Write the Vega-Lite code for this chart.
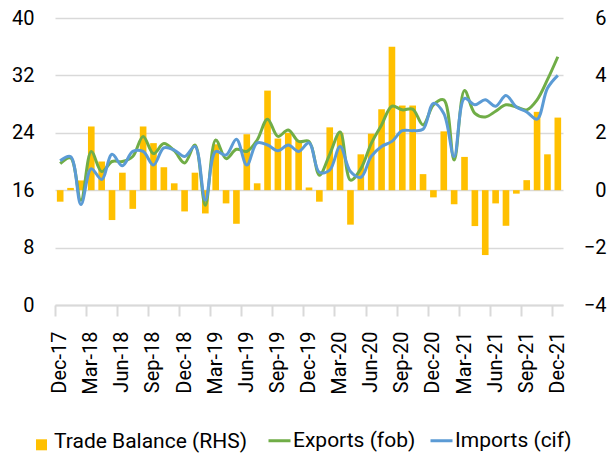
{
  "$schema": "https://vega.github.io/schema/vega-lite/v6.json",
  "width": 508,
  "height": 287,
  "autosize": {"type": "none"},
  "padding": {"left": 55, "top": 18, "right": 44, "bottom": 149},
  "config": {
    "view": {"stroke": null},
    "font": "Roboto",
    "axis": {"labelFont": "Roboto", "labelColor": "#000000", "labelFontSize": 20, "title": null},
    "legend": {"labelFont": "Roboto", "labelColor": "#000000", "labelFontSize": 21, "labelLimit": 400}
  },
  "datasets": {
    "bal": [
      {"month": "Dec-17", "item": "Trade Balance (RHS)", "balance": -0.40},
      {"month": "Jan-18", "item": "Trade Balance (RHS)", "balance": 0.08},
      {"month": "Feb-18", "item": "Trade Balance (RHS)", "balance": 0.34},
      {"month": "Mar-18", "item": "Trade Balance (RHS)", "balance": 2.22},
      {"month": "Apr-18", "item": "Trade Balance (RHS)", "balance": 1.00},
      {"month": "May-18", "item": "Trade Balance (RHS)", "balance": -1.04},
      {"month": "Jun-18", "item": "Trade Balance (RHS)", "balance": 0.61},
      {"month": "Jul-18", "item": "Trade Balance (RHS)", "balance": -0.65},
      {"month": "Aug-18", "item": "Trade Balance (RHS)", "balance": 2.22},
      {"month": "Sep-18", "item": "Trade Balance (RHS)", "balance": 1.64},
      {"month": "Oct-18", "item": "Trade Balance (RHS)", "balance": 0.80},
      {"month": "Nov-18", "item": "Trade Balance (RHS)", "balance": 0.24},
      {"month": "Dec-18", "item": "Trade Balance (RHS)", "balance": -0.74},
      {"month": "Jan-19", "item": "Trade Balance (RHS)", "balance": 0.61},
      {"month": "Feb-19", "item": "Trade Balance (RHS)", "balance": -0.81},
      {"month": "Mar-19", "item": "Trade Balance (RHS)", "balance": 1.60},
      {"month": "Apr-19", "item": "Trade Balance (RHS)", "balance": -0.46},
      {"month": "May-19", "item": "Trade Balance (RHS)", "balance": -1.17},
      {"month": "Jun-19", "item": "Trade Balance (RHS)", "balance": 1.95},
      {"month": "Jul-19", "item": "Trade Balance (RHS)", "balance": 0.24},
      {"month": "Aug-19", "item": "Trade Balance (RHS)", "balance": 3.47},
      {"month": "Sep-19", "item": "Trade Balance (RHS)", "balance": 1.80},
      {"month": "Oct-19", "item": "Trade Balance (RHS)", "balance": 2.00},
      {"month": "Nov-19", "item": "Trade Balance (RHS)", "balance": 1.74},
      {"month": "Dec-19", "item": "Trade Balance (RHS)", "balance": 0.09},
      {"month": "Jan-20", "item": "Trade Balance (RHS)", "balance": -0.40},
      {"month": "Feb-20", "item": "Trade Balance (RHS)", "balance": 2.19},
      {"month": "Mar-20", "item": "Trade Balance (RHS)", "balance": 2.00},
      {"month": "Apr-20", "item": "Trade Balance (RHS)", "balance": -1.20},
      {"month": "May-20", "item": "Trade Balance (RHS)", "balance": 1.25},
      {"month": "Jun-20", "item": "Trade Balance (RHS)", "balance": 1.97},
      {"month": "Jul-20", "item": "Trade Balance (RHS)", "balance": 2.82},
      {"month": "Aug-20", "item": "Trade Balance (RHS)", "balance": 5.00},
      {"month": "Sep-20", "item": "Trade Balance (RHS)", "balance": 2.95},
      {"month": "Oct-20", "item": "Trade Balance (RHS)", "balance": 2.95},
      {"month": "Nov-20", "item": "Trade Balance (RHS)", "balance": 0.56},
      {"month": "Dec-20", "item": "Trade Balance (RHS)", "balance": -0.25},
      {"month": "Jan-21", "item": "Trade Balance (RHS)", "balance": 2.05},
      {"month": "Feb-21", "item": "Trade Balance (RHS)", "balance": -0.49},
      {"month": "Mar-21", "item": "Trade Balance (RHS)", "balance": 1.16},
      {"month": "Apr-21", "item": "Trade Balance (RHS)", "balance": -1.25},
      {"month": "May-21", "item": "Trade Balance (RHS)", "balance": -2.26},
      {"month": "Jun-21", "item": "Trade Balance (RHS)", "balance": -0.46},
      {"month": "Jul-21", "item": "Trade Balance (RHS)", "balance": -1.24},
      {"month": "Aug-21", "item": "Trade Balance (RHS)", "balance": -0.12},
      {"month": "Sep-21", "item": "Trade Balance (RHS)", "balance": 0.35},
      {"month": "Oct-21", "item": "Trade Balance (RHS)", "balance": 2.73},
      {"month": "Nov-21", "item": "Trade Balance (RHS)", "balance": 1.25},
      {"month": "Dec-21", "item": "Trade Balance (RHS)", "balance": 2.53}
    ],
    "lines": [
      {"month": "Dec-17", "series": "Exports (fob)", "value": 19.7},
      {"month": "Jan-18", "series": "Exports (fob)", "value": 20.5},
      {"month": "Feb-18", "series": "Exports (fob)", "value": 14.6},
      {"month": "Mar-18", "series": "Exports (fob)", "value": 21.4},
      {"month": "Apr-18", "series": "Exports (fob)", "value": 18.6},
      {"month": "May-18", "series": "Exports (fob)", "value": 20.0},
      {"month": "Jun-18", "series": "Exports (fob)", "value": 20.0},
      {"month": "Jul-18", "series": "Exports (fob)", "value": 20.7},
      {"month": "Aug-18", "series": "Exports (fob)", "value": 23.5},
      {"month": "Sep-18", "series": "Exports (fob)", "value": 21.1},
      {"month": "Oct-18", "series": "Exports (fob)", "value": 22.5},
      {"month": "Nov-18", "series": "Exports (fob)", "value": 21.5},
      {"month": "Dec-18", "series": "Exports (fob)", "value": 19.8},
      {"month": "Jan-19", "series": "Exports (fob)", "value": 22.3},
      {"month": "Feb-19", "series": "Exports (fob)", "value": 13.9},
      {"month": "Mar-19", "series": "Exports (fob)", "value": 23.0},
      {"month": "Apr-19", "series": "Exports (fob)", "value": 20.4},
      {"month": "May-19", "series": "Exports (fob)", "value": 21.7},
      {"month": "Jun-19", "series": "Exports (fob)", "value": 21.4},
      {"month": "Jul-19", "series": "Exports (fob)", "value": 23.0},
      {"month": "Aug-19", "series": "Exports (fob)", "value": 25.9},
      {"month": "Sep-19", "series": "Exports (fob)", "value": 23.5},
      {"month": "Oct-19", "series": "Exports (fob)", "value": 24.4},
      {"month": "Nov-19", "series": "Exports (fob)", "value": 22.8},
      {"month": "Dec-19", "series": "Exports (fob)", "value": 22.8},
      {"month": "Jan-20", "series": "Exports (fob)", "value": 18.1},
      {"month": "Feb-20", "series": "Exports (fob)", "value": 21.0},
      {"month": "Mar-20", "series": "Exports (fob)", "value": 24.1},
      {"month": "Apr-20", "series": "Exports (fob)", "value": 17.4},
      {"month": "May-20", "series": "Exports (fob)", "value": 19.0},
      {"month": "Jun-20", "series": "Exports (fob)", "value": 22.5},
      {"month": "Jul-20", "series": "Exports (fob)", "value": 25.1},
      {"month": "Aug-20", "series": "Exports (fob)", "value": 27.7},
      {"month": "Sep-20", "series": "Exports (fob)", "value": 27.2},
      {"month": "Oct-20", "series": "Exports (fob)", "value": 27.3},
      {"month": "Nov-20", "series": "Exports (fob)", "value": 25.1},
      {"month": "Dec-20", "series": "Exports (fob)", "value": 27.9},
      {"month": "Jan-21", "series": "Exports (fob)", "value": 28.6},
      {"month": "Feb-21", "series": "Exports (fob)", "value": 20.2},
      {"month": "Mar-21", "series": "Exports (fob)", "value": 29.9},
      {"month": "Apr-21", "series": "Exports (fob)", "value": 26.7},
      {"month": "May-21", "series": "Exports (fob)", "value": 26.2},
      {"month": "Jun-21", "series": "Exports (fob)", "value": 27.0},
      {"month": "Jul-21", "series": "Exports (fob)", "value": 27.9},
      {"month": "Aug-21", "series": "Exports (fob)", "value": 27.6},
      {"month": "Sep-21", "series": "Exports (fob)", "value": 27.2},
      {"month": "Oct-21", "series": "Exports (fob)", "value": 28.6},
      {"month": "Nov-21", "series": "Exports (fob)", "value": 31.4},
      {"month": "Dec-21", "series": "Exports (fob)", "value": 34.6},
      {"month": "Dec-17", "series": "Imports (cif)", "value": 20.1},
      {"month": "Jan-18", "series": "Imports (cif)", "value": 20.7},
      {"month": "Feb-18", "series": "Imports (cif)", "value": 14.0},
      {"month": "Mar-18", "series": "Imports (cif)", "value": 19.0},
      {"month": "Apr-18", "series": "Imports (cif)", "value": 17.5},
      {"month": "May-18", "series": "Imports (cif)", "value": 21.0},
      {"month": "Jun-18", "series": "Imports (cif)", "value": 19.4},
      {"month": "Jul-18", "series": "Imports (cif)", "value": 21.4},
      {"month": "Aug-18", "series": "Imports (cif)", "value": 21.4},
      {"month": "Sep-18", "series": "Imports (cif)", "value": 19.5},
      {"month": "Oct-18", "series": "Imports (cif)", "value": 21.9},
      {"month": "Nov-18", "series": "Imports (cif)", "value": 21.6},
      {"month": "Dec-18", "series": "Imports (cif)", "value": 20.7},
      {"month": "Jan-19", "series": "Imports (cif)", "value": 22.1},
      {"month": "Feb-19", "series": "Imports (cif)", "value": 14.6},
      {"month": "Mar-19", "series": "Imports (cif)", "value": 21.4},
      {"month": "Apr-19", "series": "Imports (cif)", "value": 20.9},
      {"month": "May-19", "series": "Imports (cif)", "value": 23.1},
      {"month": "Jun-19", "series": "Imports (cif)", "value": 19.5},
      {"month": "Jul-19", "series": "Imports (cif)", "value": 22.6},
      {"month": "Aug-19", "series": "Imports (cif)", "value": 22.3},
      {"month": "Sep-19", "series": "Imports (cif)", "value": 21.5},
      {"month": "Oct-19", "series": "Imports (cif)", "value": 22.3},
      {"month": "Nov-19", "series": "Imports (cif)", "value": 21.4},
      {"month": "Dec-19", "series": "Imports (cif)", "value": 22.6},
      {"month": "Jan-20", "series": "Imports (cif)", "value": 18.5},
      {"month": "Feb-20", "series": "Imports (cif)", "value": 18.8},
      {"month": "Mar-20", "series": "Imports (cif)", "value": 22.1},
      {"month": "Apr-20", "series": "Imports (cif)", "value": 18.6},
      {"month": "May-20", "series": "Imports (cif)", "value": 17.8},
      {"month": "Jun-20", "series": "Imports (cif)", "value": 20.7},
      {"month": "Jul-20", "series": "Imports (cif)", "value": 22.1},
      {"month": "Aug-20", "series": "Imports (cif)", "value": 22.8},
      {"month": "Sep-20", "series": "Imports (cif)", "value": 24.3},
      {"month": "Oct-20", "series": "Imports (cif)", "value": 24.3},
      {"month": "Nov-20", "series": "Imports (cif)", "value": 24.5},
      {"month": "Dec-20", "series": "Imports (cif)", "value": 28.1},
      {"month": "Jan-21", "series": "Imports (cif)", "value": 26.7},
      {"month": "Feb-21", "series": "Imports (cif)", "value": 20.7},
      {"month": "Mar-21", "series": "Imports (cif)", "value": 28.8},
      {"month": "Apr-21", "series": "Imports (cif)", "value": 27.9},
      {"month": "May-21", "series": "Imports (cif)", "value": 28.6},
      {"month": "Jun-21", "series": "Imports (cif)", "value": 27.7},
      {"month": "Jul-21", "series": "Imports (cif)", "value": 29.2},
      {"month": "Aug-21", "series": "Imports (cif)", "value": 27.6},
      {"month": "Sep-21", "series": "Imports (cif)", "value": 26.9},
      {"month": "Oct-21", "series": "Imports (cif)", "value": 25.9},
      {"month": "Nov-21", "series": "Imports (cif)", "value": 30.2},
      {"month": "Dec-21", "series": "Imports (cif)", "value": 32.0}
    ]
  },
  "encoding": {
    "x": {
      "field": "month",
      "type": "ordinal",
      "sort": null,
      "scale": {
        "type": "band",
        "paddingInner": 0,
        "paddingOuter": 0,
        "domain": ["Dec-17","Jan-18","Feb-18","Mar-18","Apr-18","May-18","Jun-18","Jul-18","Aug-18","Sep-18","Oct-18","Nov-18","Dec-18","Jan-19","Feb-19","Mar-19","Apr-19","May-19","Jun-19","Jul-19","Aug-19","Sep-19","Oct-19","Nov-19","Dec-19","Jan-20","Feb-20","Mar-20","Apr-20","May-20","Jun-20","Jul-20","Aug-20","Sep-20","Oct-20","Nov-20","Dec-20","Jan-21","Feb-21","Mar-21","Apr-21","May-21","Jun-21","Jul-21","Aug-21","Sep-21","Oct-21","Nov-21","Dec-21"]
      },
      "axis": {
        "title": null,
        "orient": "bottom",
        "bandPosition": 0,
        "values": ["Dec-17","Mar-18","Jun-18","Sep-18","Dec-18","Mar-19","Jun-19","Sep-19","Dec-19","Mar-20","Jun-20","Sep-20","Dec-20","Mar-21","Jun-21","Sep-21","Dec-21"],
        "labelAngle": 270,
        "labelAlign": "right",
        "labelBaseline": "middle",
        "labelPadding": 15,
        "labelFontSize": 20,
        "domainColor": "#d9d9d9",
        "domainWidth": 2,
        "tickColor": "#d9d9d9",
        "tickWidth": 2,
        "tickSize": 11,
        "grid": false
      }
    }
  },
  "layer": [
    {
      "data": {"name": "bal"},
      "mark": {"type": "bar", "width": {"band": 0.64}},
      "encoding": {
        "y": {
          "field": "balance",
          "type": "quantitative",
          "scale": {"domain": [-4, 6], "nice": false, "zero": false},
          "axis": {
            "orient": "right",
            "title": null,
            "values": [-4, -2, 0, 2, 4, 6],
            "ticks": false,
            "domain": false,
            "grid": false,
            "labelAlign": "right",
            "labelPadding": 43,
            "labelFontSize": 20
          }
        },
        "fill": {
          "field": "item",
          "type": "nominal",
          "scale": {"domain": ["Trade Balance (RHS)"], "range": ["#FFC000"]},
          "legend": {
            "title": null,
            "orient": "none",
            "legendX": -24,
            "legendY": 413,
            "direction": "horizontal",
            "symbolType": "M-1,-0.4H1V1.6H-1Z",
            "symbolSize": 121,
            "symbolStrokeWidth": 0,
            "labelOffset": 2,
            "labelFontSize": 21,
            "padding": 0
          }
        }
      }
    },
    {
      "data": {"name": "lines"},
      "mark": {"type": "line", "strokeWidth": 3, "interpolate": "catmull-rom"},
      "encoding": {
        "y": {
          "field": "value",
          "type": "quantitative",
          "scale": {"domain": [0, 40], "nice": false},
          "axis": {
            "orient": "left",
            "title": null,
            "values": [0, 8, 16, 24, 32, 40],
            "ticks": false,
            "domain": false,
            "grid": true,
            "gridColor": "#d9d9d9",
            "gridWidth": 1.3,
            "labelPadding": 21,
            "labelFontSize": 20
          }
        },
        "stroke": {
          "field": "series",
          "type": "nominal",
          "scale": {"domain": ["Exports (fob)", "Imports (cif)"], "range": ["#70AD47", "#5B9BD5"]},
          "legend": {
            "title": null,
            "orient": "none",
            "legendX": 212,
            "legendY": 410,
            "direction": "horizontal",
            "symbolType": "stroke",
            "symbolSize": 484,
            "symbolStrokeWidth": 3,
            "labelOffset": 1,
            "columnPadding": 8,
            "labelFontSize": 21,
            "padding": 0
          }
        }
      }
    }
  ],
  "resolve": {"scale": {"y": "independent"}, "axis": {"y": "independent"}}
}
